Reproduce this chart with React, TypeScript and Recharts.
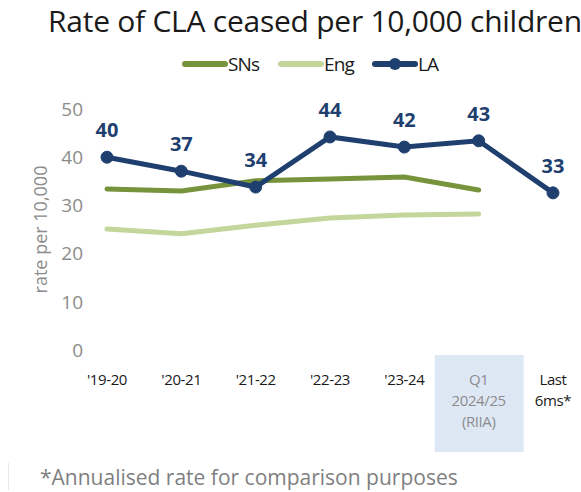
import React from 'react';
import { LineChart, Line, XAxis, YAxis, LabelList } from 'recharts';

// categories (x axis) and tick text
const periods = ["'19-20", "'20-21", "'21-22", "'22-23", "'23-24", 'Q1 2024/25 (RIIA)', 'Last 6ms*'];
const tickLines = [["'19-20"], ["'20-21"], ["'21-22"], ["'22-23"], ["'23-24"], ['Q1', '2024/25', '(RIIA)'], ['Last', '6ms*']];

// series values
const snsValues = [33.4, 33.0, 35.1, 35.5, 35.9, 33.2, null];
const engValues = [25.1, 24.1, 25.9, 27.4, 28.0, 28.2, null];
const laValues = [40.0, 37.1, 33.8, 44.2, 42.1, 43.4, 32.6];

const yTicks = [0, 10, 20, 30, 40, 50];

const data = periods.map((p, i) => ({
  period: p,
  sns: snsValues[i],
  eng: engValues[i],
  la: laValues[i],
}));

const NAVY = '#1F3F6F';
const SNS = '#77933C';
const ENG = '#C3D69B';
const FONT = '"Open Sans", "Noto Sans", sans-serif';

const XTick = (props: any) => {
  const { x, y, index } = props;
  const lines = tickLines[index] || [];
  const isQ1 = index === 5;
  return (
    <g>
      {isQ1 && <rect x={x - 44} y={y + 5} width={89} height={97} fill="#DEE8F5" />}
      {lines.map((t: string, i: number) => (
        <text
          key={i}
          x={x}
          y={y + 35 + i * 21}
          textAnchor="middle"
          fontSize={15}
          fontFamily={FONT}
          letterSpacing={-0.4}
          fill={isQ1 ? '#8C8C8C' : '#1A1A1A'}
        >
          {t}
        </text>
      ))}
    </g>
  );
};

const LegendItem = ({ color, label, left, dot }: any) => (
  <div style={{ position: 'absolute', left, top: 54, height: 20, display: 'flex', alignItems: 'center' }}>
    <div style={{ position: 'relative', width: 46, height: 6, borderRadius: 3, background: color }}>
      {dot && (
        <div style={{ position: 'absolute', left: 17, top: -3, width: 12, height: 12, borderRadius: 6, background: color }} />
      )}
    </div>
    <span style={{ fontSize: 19, color: '#1A1A1A', letterSpacing: -0.8 }}>{label}</span>
  </div>
);

export default function App() {
  return (
    <div style={{ position: 'absolute', left: 0, top: 0, width: 581, height: 492, background: '#fff', fontFamily: FONT, overflow: 'hidden' }}>
      <div style={{ position: 'absolute', left: 48, top: 0, fontSize: 30, color: '#1A1A1A', whiteSpace: 'nowrap', letterSpacing: -0.25 }}>
        Rate of CLA ceased per 10,000 children
      </div>
      <LegendItem color={SNS} label="SNs" left={182} />
      <LegendItem color={ENG} label="Eng" left={278} />
      <LegendItem color={NAVY} label="LA" left={372} dot />

      <div style={{ position: 'absolute', left: 0, top: 0 }}>
        <LineChart width={581} height={492} data={data} margin={{ top: 109, right: 0, bottom: 42, left: 0 }}>
          <XAxis
            dataKey="period"
            axisLine={false}
            tickLine={false}
            tickSize={0}
            tickMargin={0}
            height={100}
            interval={0}
            padding={{ left: 15, right: 28 }}
            tick={<XTick />}
          />
          <YAxis
            domain={[0, 50]}
            ticks={yTicks}
            width={92}
            axisLine={false}
            tickLine={false}
            tickSize={0}
            tickMargin={9}
            tick={{ fill: '#8C8C8C', fontSize: 19, fontFamily: FONT }}
            label={{ value: 'rate per 10,000', angle: -90, position: 'center', dx: -5, fill: '#8C8C8C', fontSize: 18, fontFamily: FONT }}
          />
          <Line dataKey="eng" stroke={ENG} strokeWidth={5} strokeLinecap="round" dot={false} isAnimationActive={false} />
          <Line dataKey="sns" stroke={SNS} strokeWidth={5} strokeLinecap="round" dot={false} isAnimationActive={false} />
          <Line
            dataKey="la"
            stroke={NAVY}
            strokeWidth={5}
            dot={{ r: 6, fill: NAVY, stroke: NAVY, strokeWidth: 1 }}
            isAnimationActive={false}
          >
            <LabelList
              dataKey="la"
              position="top"
              offset={20}
              formatter={(v: any) => Math.round(v)}
              fill={NAVY}
              fontSize={20}
              fontWeight="bold"
              fontFamily={FONT}
            />
          </Line>
        </LineChart>
      </div>

      <div style={{ position: 'absolute', left: 8, top: 463, width: 1, height: 27, background: '#E6E6E6' }} />
      <div style={{ position: 'absolute', left: 40, top: 463, fontSize: 21, color: '#7F7F7F', whiteSpace: 'nowrap' }}>
        *Annualised rate for comparison purposes
      </div>
    </div>
  );
}
